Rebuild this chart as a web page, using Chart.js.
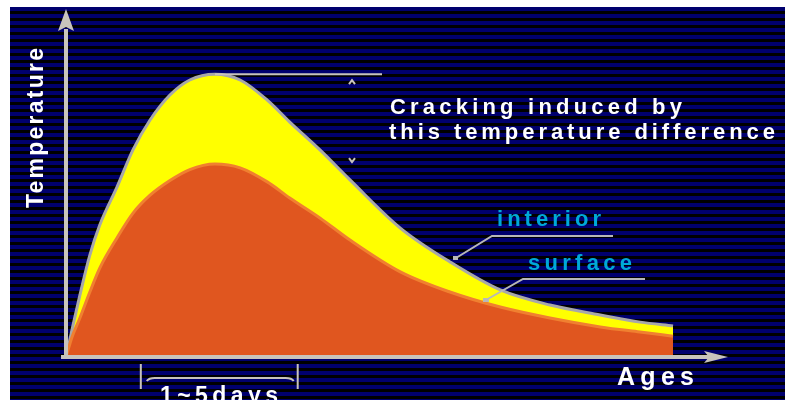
<!DOCTYPE html>
<html>
<head>
<meta charset="utf-8">
<script src="https://cdn.jsdelivr.net/npm/chart.js@4.4.0/dist/chart.umd.min.js"></script>
<style>
    html, body { margin: 0; padding: 0; background: #ffffff; }
    #wrap {
        position: relative;
        width: 785px;
        height: 400px;
        overflow: hidden;
    }
    #stripes {
        position: absolute;
        left: 10px;
        top: 7px;
        right: 0;
        bottom: 0;
        background: repeating-linear-gradient(to bottom, #00006e 0px, #00006e 4px, #000000 4px, #000000 7px);
    }
    #chart { position: absolute; left: 0; top: 0; }
</style>
</head>
<body>
<div id="wrap">
    <div id="stripes"></div>
    <canvas id="chart" width="785" height="400"></canvas>
</div>
<script>
    // age axis (arbitrary units) and temperature readings for both curves
    var ages = [0, 0.9, 2.1, 3.6, 5.1, 7.7, 10.1, 12.7, 15.7, 18.7, 22.5, 26.3, 30.4, 33.8, 38.4, 42.9, 50.5, 58.0, 65.6, 73.1, 80.7, 86.7, 91.7];
    var interiorTemp = [0, 7.9, 18.1, 29.8, 38.6, 49.7, 60.5, 69.3, 76.6, 81.0, 82.7, 81.0, 75.1, 68.7, 60.5, 51.8, 37.7, 27.8, 19.6, 15.2, 12.3, 10.2, 9.1];
    var surfaceTemp = [0, 5.8, 11.4, 19.0, 26.0, 34.8, 42.0, 47.3, 51.6, 54.8, 56.4, 55.3, 51.2, 46.5, 40.6, 34.2, 24.9, 19.0, 14.6, 11.4, 8.8, 7.3, 6.1];

    var seriesLabels = ['interior', 'surface'];
    var axisTitles = ['Temperature', 'Ages'];
    var noteLines = ['Cracking induced by', 'this temperature difference'];
    var spanLabel = '1~5days';
    var spanAges = [11.3, 35.0];

    function toPoints(xs, ys) {
        return xs.map(function (x, i) { return { x: x, y: ys[i] }; });
    }

    // draw text left aligned, stretched with letter spacing to a given width
    function fitText(ctx, text, x, y, width) {
        ctx.letterSpacing = '0px';
        var base = ctx.measureText(text).width;
        var gap = (width - base) / (text.length - 1);
        ctx.letterSpacing = gap + 'px';
        ctx.fillText(text, x, y);
        ctx.letterSpacing = '0px';
    }

    var overlay = {
        id: 'overlay',
        afterDatasetsDraw: function (chart) {
            var ctx = chart.ctx;
            var xs = chart.scales.x;
            var ys = chart.scales.y;
            var x0 = xs.getPixelForValue(0);
            var y0 = ys.getPixelForValue(0);
            var axisColor = '#c8c4bc';

            ctx.save();
            // axes with arrow heads
            ctx.strokeStyle = axisColor;
            ctx.fillStyle = axisColor;
            ctx.lineWidth = 4;
            ctx.beginPath();
            ctx.moveTo(x0, y0 + 2);
            ctx.lineTo(x0, chart.chartArea.top + 14);
            ctx.moveTo(x0 - 5, y0);
            ctx.lineTo(chart.chartArea.right - 16, y0);
            ctx.stroke();

            ctx.beginPath();
            ctx.moveTo(x0, chart.chartArea.top - 6);
            ctx.lineTo(x0 + 8, chart.chartArea.top + 16);
            ctx.lineTo(x0, chart.chartArea.top + 12);
            ctx.lineTo(x0 - 8, chart.chartArea.top + 16);
            ctx.closePath();
            ctx.fill();

            ctx.beginPath();
            ctx.moveTo(chart.chartArea.right, y0);
            ctx.lineTo(chart.chartArea.right - 24, y0 - 6);
            ctx.lineTo(chart.chartArea.right - 19, y0);
            ctx.lineTo(chart.chartArea.right - 24, y0 + 6);
            ctx.closePath();
            ctx.fill();

            // temperature difference marker
            var peakX = xs.getPixelForValue(22.5);
            var peakY = ys.getPixelForValue(82.7);
            var markX = 352;
            var lowY = ys.getPixelForValue(56.4);
            ctx.lineWidth = 2;
            ctx.beginPath();
            ctx.moveTo(peakX, peakY);
            ctx.lineTo(382, peakY);
            ctx.stroke();
            ctx.beginPath();
            ctx.moveTo(markX - 3, peakY + 10);
            ctx.lineTo(markX, peakY + 6);
            ctx.lineTo(markX + 3, peakY + 10);
            ctx.moveTo(markX - 3, lowY - 6);
            ctx.lineTo(markX, lowY - 2);
            ctx.lineTo(markX + 3, lowY - 6);
            ctx.stroke();

            // leader lines for curve labels
            ctx.strokeStyle = '#b8b8b8';
            ctx.lineWidth = 2;
            ctx.beginPath();
            ctx.moveTo(613, 236);
            ctx.lineTo(492, 236);
            ctx.lineTo(456, 258);
            ctx.moveTo(645, 279);
            ctx.lineTo(523, 279);
            ctx.lineTo(486, 300);
            ctx.stroke();
            ctx.fillStyle = '#b8b8b8';
            ctx.fillRect(453, 256, 5, 4);
            ctx.fillRect(483, 298, 6, 4);

            // 1~5days bracket
            var sx1 = xs.getPixelForValue(spanAges[0]);
            var sx2 = xs.getPixelForValue(spanAges[1]);
            ctx.strokeStyle = axisColor;
            ctx.lineWidth = 2;
            ctx.beginPath();
            ctx.moveTo(sx1, 364);
            ctx.lineTo(sx1, 389);
            ctx.moveTo(sx2, 364);
            ctx.lineTo(sx2, 389);
            ctx.moveTo(sx1 + 6, 381);
            ctx.quadraticCurveTo(sx1 + 8, 378, sx1 + 14, 378);
            ctx.lineTo(sx2 - 12, 378);
            ctx.quadraticCurveTo(sx2 - 6, 378, sx2 - 4, 381);
            ctx.stroke();

            // texts
            ctx.fillStyle = '#ffffff';
            ctx.textBaseline = 'middle';
            ctx.textAlign = 'left';
            ctx.font = 'bold 23px "Liberation Sans", Arial, sans-serif';
            ctx.save();
            ctx.translate(37, 208);
            ctx.rotate(-Math.PI / 2);
            fitText(ctx, axisTitles[0], 0, 0, 160);
            ctx.restore();

            ctx.font = 'bold 25px "Liberation Sans", Arial, sans-serif';
            fitText(ctx, axisTitles[1], 617, 378, 77);

            ctx.font = 'bold 23px "Liberation Sans", Arial, sans-serif';
            fitText(ctx, spanLabel, 160, 397, 118);

            ctx.font = 'bold 22px "Liberation Sans", Arial, sans-serif';
            fitText(ctx, noteLines[0], 390, 108, 292);
            fitText(ctx, noteLines[1], 389, 133, 386);

            ctx.fillStyle = '#00a8d8';
            ctx.font = 'bold 22px "Liberation Sans", Arial, sans-serif';
            fitText(ctx, seriesLabels[0], 497, 220, 104);
            fitText(ctx, seriesLabels[1], 528, 264, 104);
            ctx.restore();
        }
    };

    var canvas = document.getElementById('chart');
    var chart = new Chart(canvas, {
        type: 'line',
        data: {
            datasets: [{
                label: seriesLabels[0],
                data: toPoints(ages, interiorTemp),
                borderColor: '#a8a8a8',
                backgroundColor: '#ffff00',
                borderWidth: 3,
                pointRadius: 0,
                fill: 'origin',
                cubicInterpolationMode: 'monotone',
                order: 2
            }, {
                label: seriesLabels[1],
                data: toPoints(ages, surfaceTemp),
                borderColor: '#f08030',
                backgroundColor: '#e0561f',
                borderWidth: 3,
                pointRadius: 0,
                fill: 'origin',
                cubicInterpolationMode: 'monotone',
                order: 1
            }]
        },
        options: {
            responsive: false,
            animation: false,
            events: [],
            layout: {
                padding: { left: 66, right: 57, top: 15, bottom: 43 }
            },
            plugins: {
                legend: { display: false },
                tooltip: { enabled: false }
            },
            scales: {
                x: { type: 'linear', display: false, min: 0, max: 100 },
                y: { type: 'linear', display: false, min: 0, max: 100 }
            }
        },
        plugins: [overlay]
    });
</script>
</body>
</html>
